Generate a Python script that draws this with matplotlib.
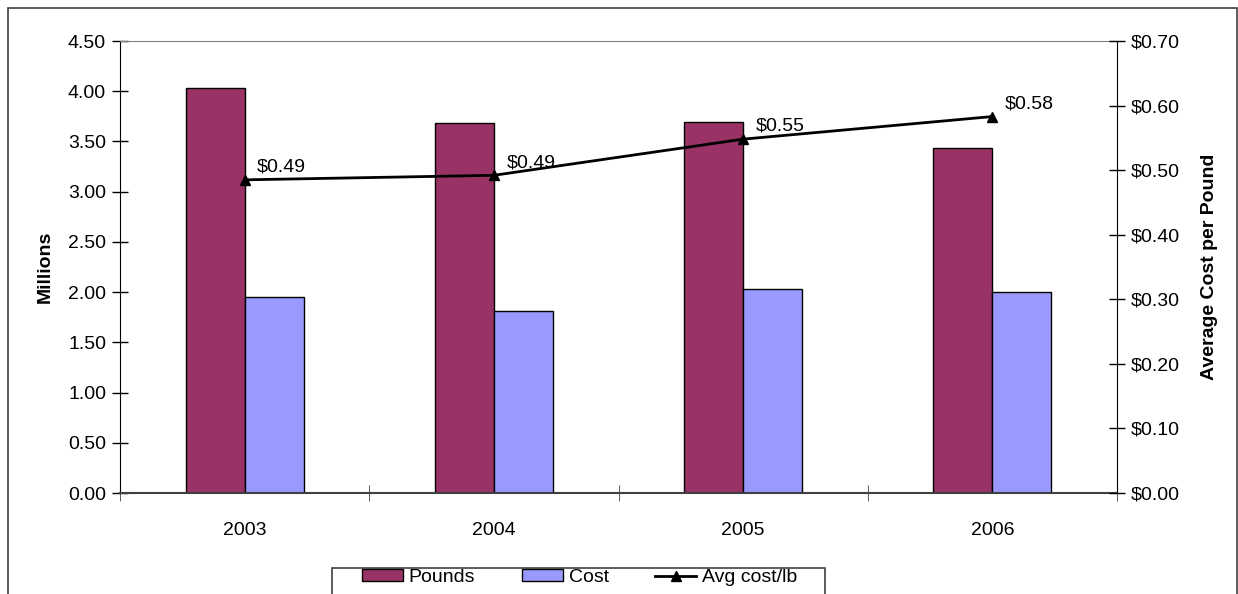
import matplotlib
matplotlib.use("Agg")
import matplotlib.pyplot as plt
from matplotlib.patches import Rectangle
from matplotlib.ticker import FuncFormatter, MultipleLocator
import numpy as np

plt.rcParams['font.family'] = ['Liberation Sans', 'DejaVu Sans']

# data
years = ['2003', '2004', '2005', '2006']
pounds = [4.03, 3.68, 3.69, 3.43]      # millions
cost = [1.95, 1.815, 2.03, 2.00]       # millions
avg_cost = [0.485, 0.492, 0.548, 0.583]
avg_labels = ['$0.49', '$0.49', '$0.55', '$0.58']

W, H = 1238, 594
FS = 14
fig = plt.figure(figsize=(W / 100, H / 100), dpi=100)

# outer chart frame (runs off the bottom edge like the original)
fig.patches.append(Rectangle((8 / W, -0.05), (1237 - 8) / W, 1.05 - 8 / H,
                             transform=fig.transFigure, fill=False,
                             edgecolor='#404040', lw=1.2))

ax = fig.add_axes([120 / W, (H - 493) / H, (1117 - 120) / W, (493 - 41) / H])
x = np.arange(len(years))
bw = 0.237

ax.bar(x - bw / 2, pounds, bw, color='#993366', edgecolor='black', lw=1, label='Pounds', zorder=2)
ax.bar(x + bw / 2, cost, bw, color='#9999FF', edgecolor='black', lw=1, label='Cost', zorder=2)

ax.set_xlim(-0.5, len(years) - 0.5)
ax.set_ylim(0, 4.5)
ax.yaxis.set_major_locator(MultipleLocator(0.5))
ax.yaxis.set_major_formatter(FuncFormatter(lambda v, p: f'{v:.2f}'))
ax.set_xticks(x)
ax.set_xticklabels(years)
ax.set_xticks(np.arange(-0.5, len(years), 1.0), minor=True)
ax.tick_params(axis='x', which='major', length=0, pad=21, labelsize=FS)
ax.tick_params(axis='x', which='minor', direction='inout', length=12, color='#404040')
ax.tick_params(axis='y', direction='inout', length=12, width=1, labelsize=FS, pad=4)
ax.set_ylabel('Millions', fontsize=FS, fontweight='bold', labelpad=10)

ax.spines['top'].set_color('#808080')
ax.spines['bottom'].set_color('#404040')
ax.spines['bottom'].set_linewidth(1.5)
ax.spines['left'].set_color('black')
ax.spines['right'].set_visible(False)

ax2 = ax.twinx()
ax2.set_ylim(0, 0.70)
ax2.yaxis.set_major_locator(MultipleLocator(0.1))
ax2.yaxis.set_major_formatter(FuncFormatter(lambda v, p: f'${v:.2f}'))
ax2.tick_params(axis='y', direction='inout', length=12, width=1, labelsize=FS, pad=4)
ax2.set_ylabel('Average Cost per Pound', fontsize=FS, fontweight='bold', labelpad=15)
for s in ['top', 'bottom', 'left']:
    ax2.spines[s].set_visible(False)
ax2.spines['right'].set_color('black')

ax2.plot(x, avg_cost, color='black', lw=2, marker='^', markersize=7,
         label='Avg cost/lb', zorder=3)
for xi, yi, lab in zip(x, avg_cost, avg_labels):
    ax2.annotate(lab, (xi, yi), xytext=(9, 3), textcoords='offset points',
                 ha='left', va='bottom', fontsize=FS)

# legend box drawn separately, entries placed inside it
fig.patches.append(Rectangle((332 / W, -0.05), (825 - 332) / W, (H - 568) / H + 0.05,
                             transform=fig.transFigure, fill=False,
                             edgecolor='#404040', lw=1.2))
h1, l1 = ax.get_legend_handles_labels()
h2, l2 = ax2.get_legend_handles_labels()
leg = fig.legend(h1 + h2, l1 + l2, loc='upper left',
                 bbox_to_anchor=(362 / W, (H - 569) / H), ncol=3,
                 fontsize=FS, frameon=False, borderpad=0,
                 handlelength=2.1, handleheight=0.6, columnspacing=2.4,
                 handletextpad=0.3, borderaxespad=0)

fig.savefig('out.png', dpi=100)
